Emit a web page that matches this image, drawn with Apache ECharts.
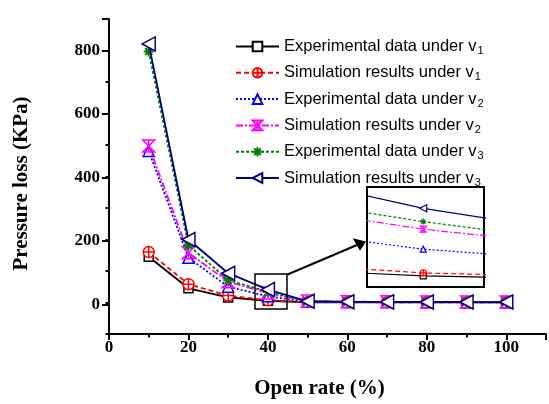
<!DOCTYPE html>
<html>
<head>
<meta charset="utf-8">
<script src="https://cdn.jsdelivr.net/npm/echarts@6/dist/echarts.min.js"></script>
<style>
html,body{margin:0;padding:0;background:#fff;}
#chart{width:549px;height:404px;}
</style>
</head>
<body>
<div id="chart"></div>
<script>
// ---- data ----
var openRate = [10, 20, 30, 40, 50, 60, 70, 80, 90, 100];
var expV1 = [145, 45, 16, 5.5, 0.5, 0.5, 0.4, 0.3, 0.3, 0.2];
var simV1 = [160, 58, 22, 7, 1, 1, 0.8, 0.6, 0.5, 0.4];
var expV2 = [481, 142, 50, 19.5, 2, 1.5, 1.2, 1, 0.9, 0.8];
var simV2 = [497, 158, 66, 30, 5, 2.5, 2, 1.8, 1.6, 1.5];
var expV3 = [797, 182, 71, 34, 3, 2, 1.8, 1.6, 1.5, 1.4];
var simV3 = [821, 200, 93, 41, 4, 2.2, 2, 1.8, 1.6, 1.5];
var seriesNames = [
  'Experimental data under v1',
  'Simulation results under v1',
  'Experimental data under v2',
  'Simulation results under v2',
  'Experimental data under v3',
  'Simulation results under v3'
];
var yTickLabels = [0, 200, 400, 600, 800];
var xTickLabels = [0, 20, 40, 60, 80, 100];

// ---- styles ----
var serif = '"Liberation Serif", "Times New Roman", serif';
var sans = '"Liberation Sans", Arial, sans-serif';
var styles = [
  {color: '#000000', dash: 'solid', symbol: 'rect', size: 9, fill: '#ffffff', bw: 1.5},
  {color: '#ff0000', dash: [5, 3], symbol: 'path://M0,-10A10,10,0,1,1,0,10A10,10,0,1,1,0,-10ZM-10,0L10,0M0,-10L0,10', size: 11, fill: '#ffffff', bw: 1.5},
  {color: '#0000ff', dash: [2, 2], symbol: 'path://M0,-10L10,8L-10,8Z', size: 11, fill: '#ffffff', bw: 1.5},
  {color: '#ff00ff', dash: [7, 2, 2, 2], symbol: 'path://M-10,-10L10,-10L-10,10L10,10ZM-10,-10L10,10M10,-10L-10,10M0,-10L0,10', size: 12, fill: 'rgba(255,255,255,0)', bw: 1.5},
  {color: '#008000', dash: [3, 2], symbol: 'path://M-10,0L10,0M0,-10L0,10M-7,-7L7,7M7,-7L-7,7M-4,0A4,4,0,1,1,4,0A4,4,0,1,1,-4,0Z', size: 10, fill: 'rgba(255,255,255,0)', bw: 2},
  {color: '#000080', dash: 'solid', symbol: 'path://M-10,0L10,-10L10,10Z', size: [13, 14], fill: '#ffffff', bw: 1.5}
];
var allData = [expV1, simV1, expV2, simV2, expV3, simV3];

function pairs(arr) {
  return openRate.map(function (x, i) { return [x, arr[i]]; });
}

var series = [];
allData.forEach(function (arr, k) {
  var s = styles[k];
  series.push({
    name: seriesNames[k], type: 'line', xAxisIndex: 0, yAxisIndex: 0,
    data: pairs(arr), symbol: s.symbol, symbolSize: s.size, showAllSymbol: true,
    lineStyle: {color: s.color, width: 1.8, type: s.dash},
    itemStyle: {color: s.fill, borderColor: s.color, borderWidth: s.bw},
    emphasis: {disabled: true}, animation: false, z: 3 + k
  });
});
// inset (zoomed view around 40 %)
allData.forEach(function (arr, k) {
  var s = styles[k];
  series.push({
    name: seriesNames[k], type: 'line', xAxisIndex: 2, yAxisIndex: 2,
    data: pairs(arr), symbol: s.symbol, symbolSize: Array.isArray(s.size) ? [7, 7] : 6, showAllSymbol: true,
    clip: true,
    lineStyle: {color: s.color, width: 1.2, type: s.dash},
    itemStyle: {color: s.fill, borderColor: s.color, borderWidth: 1.2},
    emphasis: {disabled: true}, animation: false, z: 20 + k
  });
});

var chart = echarts.init(document.getElementById('chart'), null, {renderer: 'canvas'});
chart.setOption({
  animation: false,
  backgroundColor: '#ffffff',
  grid: [
    {left: 109, right: 0, top: 19, bottom: 68},
    {left: 109, right: 0, top: 19, bottom: 99.7},
    {left: 367, top: 187, width: 117, height: 100, show: true, borderColor: '#000', borderWidth: 2, backgroundColor: '#ffffff', z: 15}
  ],
  xAxis: [
    {
      gridIndex: 0, type: 'value', min: 0, max: 110, interval: 20,
      name: 'Open rate (%)', nameLocation: 'middle', nameGap: 44,
      nameTextStyle: {fontFamily: serif, fontWeight: 'bold', fontSize: 21, color: '#000', padding: [0, 16, 0, 0]},
      axisLine: {show: true, onZero: false, lineStyle: {color: '#000', width: 2}},
      axisTick: {show: true, length: 6, lineStyle: {color: '#000', width: 2}},
      minorTick: {show: true, splitNumber: 2, length: 3.5, lineStyle: {color: '#000', width: 2}},
      axisLabel: {
        margin: 5, fontFamily: serif, fontWeight: 'bold', fontSize: 17, color: '#000',
        formatter: function (v) { return xTickLabels.indexOf(v) >= 0 ? String(v) : ''; }
      },
      splitLine: {show: false}
    },
    {gridIndex: 1, type: 'value', min: 0, max: 110, show: false},
    {gridIndex: 2, type: 'value', min: 38.75, max: 41.35, show: false}
  ],
  yAxis: [
    {
      gridIndex: 0, type: 'value', min: -100, max: 900, interval: 100,
      name: 'Pressure loss (KPa)', nameLocation: 'middle', nameGap: 77,
      nameTextStyle: {fontFamily: serif, fontWeight: 'bold', fontSize: 21, color: '#000', padding: [0, 14, 0, 0]},
      axisLine: {show: true, onZero: false, lineStyle: {color: '#000', width: 2}},
      axisTick: {show: true, length: 3.5, lineStyle: {color: '#000', width: 2}},
      axisLabel: {show: false},
      splitLine: {show: false}
    },
    {
      gridIndex: 1, type: 'value', min: 0, max: 900, interval: 200,
      axisLine: {show: false},
      axisTick: {show: true, length: 7, lineStyle: {color: '#000', width: 2}},
      axisLabel: {
        margin: 9, fontFamily: serif, fontWeight: 'bold', fontSize: 17, color: '#000',
        formatter: function (v) { return yTickLabels.indexOf(v) >= 0 ? String(v) : ''; }
      },
      splitLine: {show: false}
    },
    {gridIndex: 2, type: 'value', min: -0.4, max: 52.2, show: false}
  ],
  legend: {
    orient: 'vertical', left: 235, top: 36.5, itemGap: 6.3, padding: 0,
    itemWidth: 43, itemHeight: 12,
    data: seriesNames,
    selectedMode: false,
    formatter: function (name) {
      var m = name.match(/^(.*v)(\d)$/);
      return '{a|' + m[1] + '}{s|' + m[2] + '}';
    },
    textStyle: {
      color: '#000',
      rich: {
        a: {fontFamily: sans, fontSize: 16.5, color: '#000', lineHeight: 21},
        s: {fontFamily: sans, fontSize: 11, color: '#000', padding: [9, 0, 0, 1], lineHeight: 21}
      }
    }
  },
  graphic: [
    {type: 'rect', shape: {x: 255, y: 274, width: 32, height: 35}, style: {fill: 'none', stroke: '#000', lineWidth: 1.5}, z: 30},
    {type: 'line', shape: {x1: 287.5, y1: 274.5, x2: 357, y2: 245}, style: {stroke: '#000', lineWidth: 2}, z: 30},
    {type: 'polygon', shape: {points: [[366, 241.5], [352.7, 238.3], [360, 250.7]]}, style: {fill: '#000'}, z: 30}
  ],
  series: series
});
</script>
</body>
</html>
